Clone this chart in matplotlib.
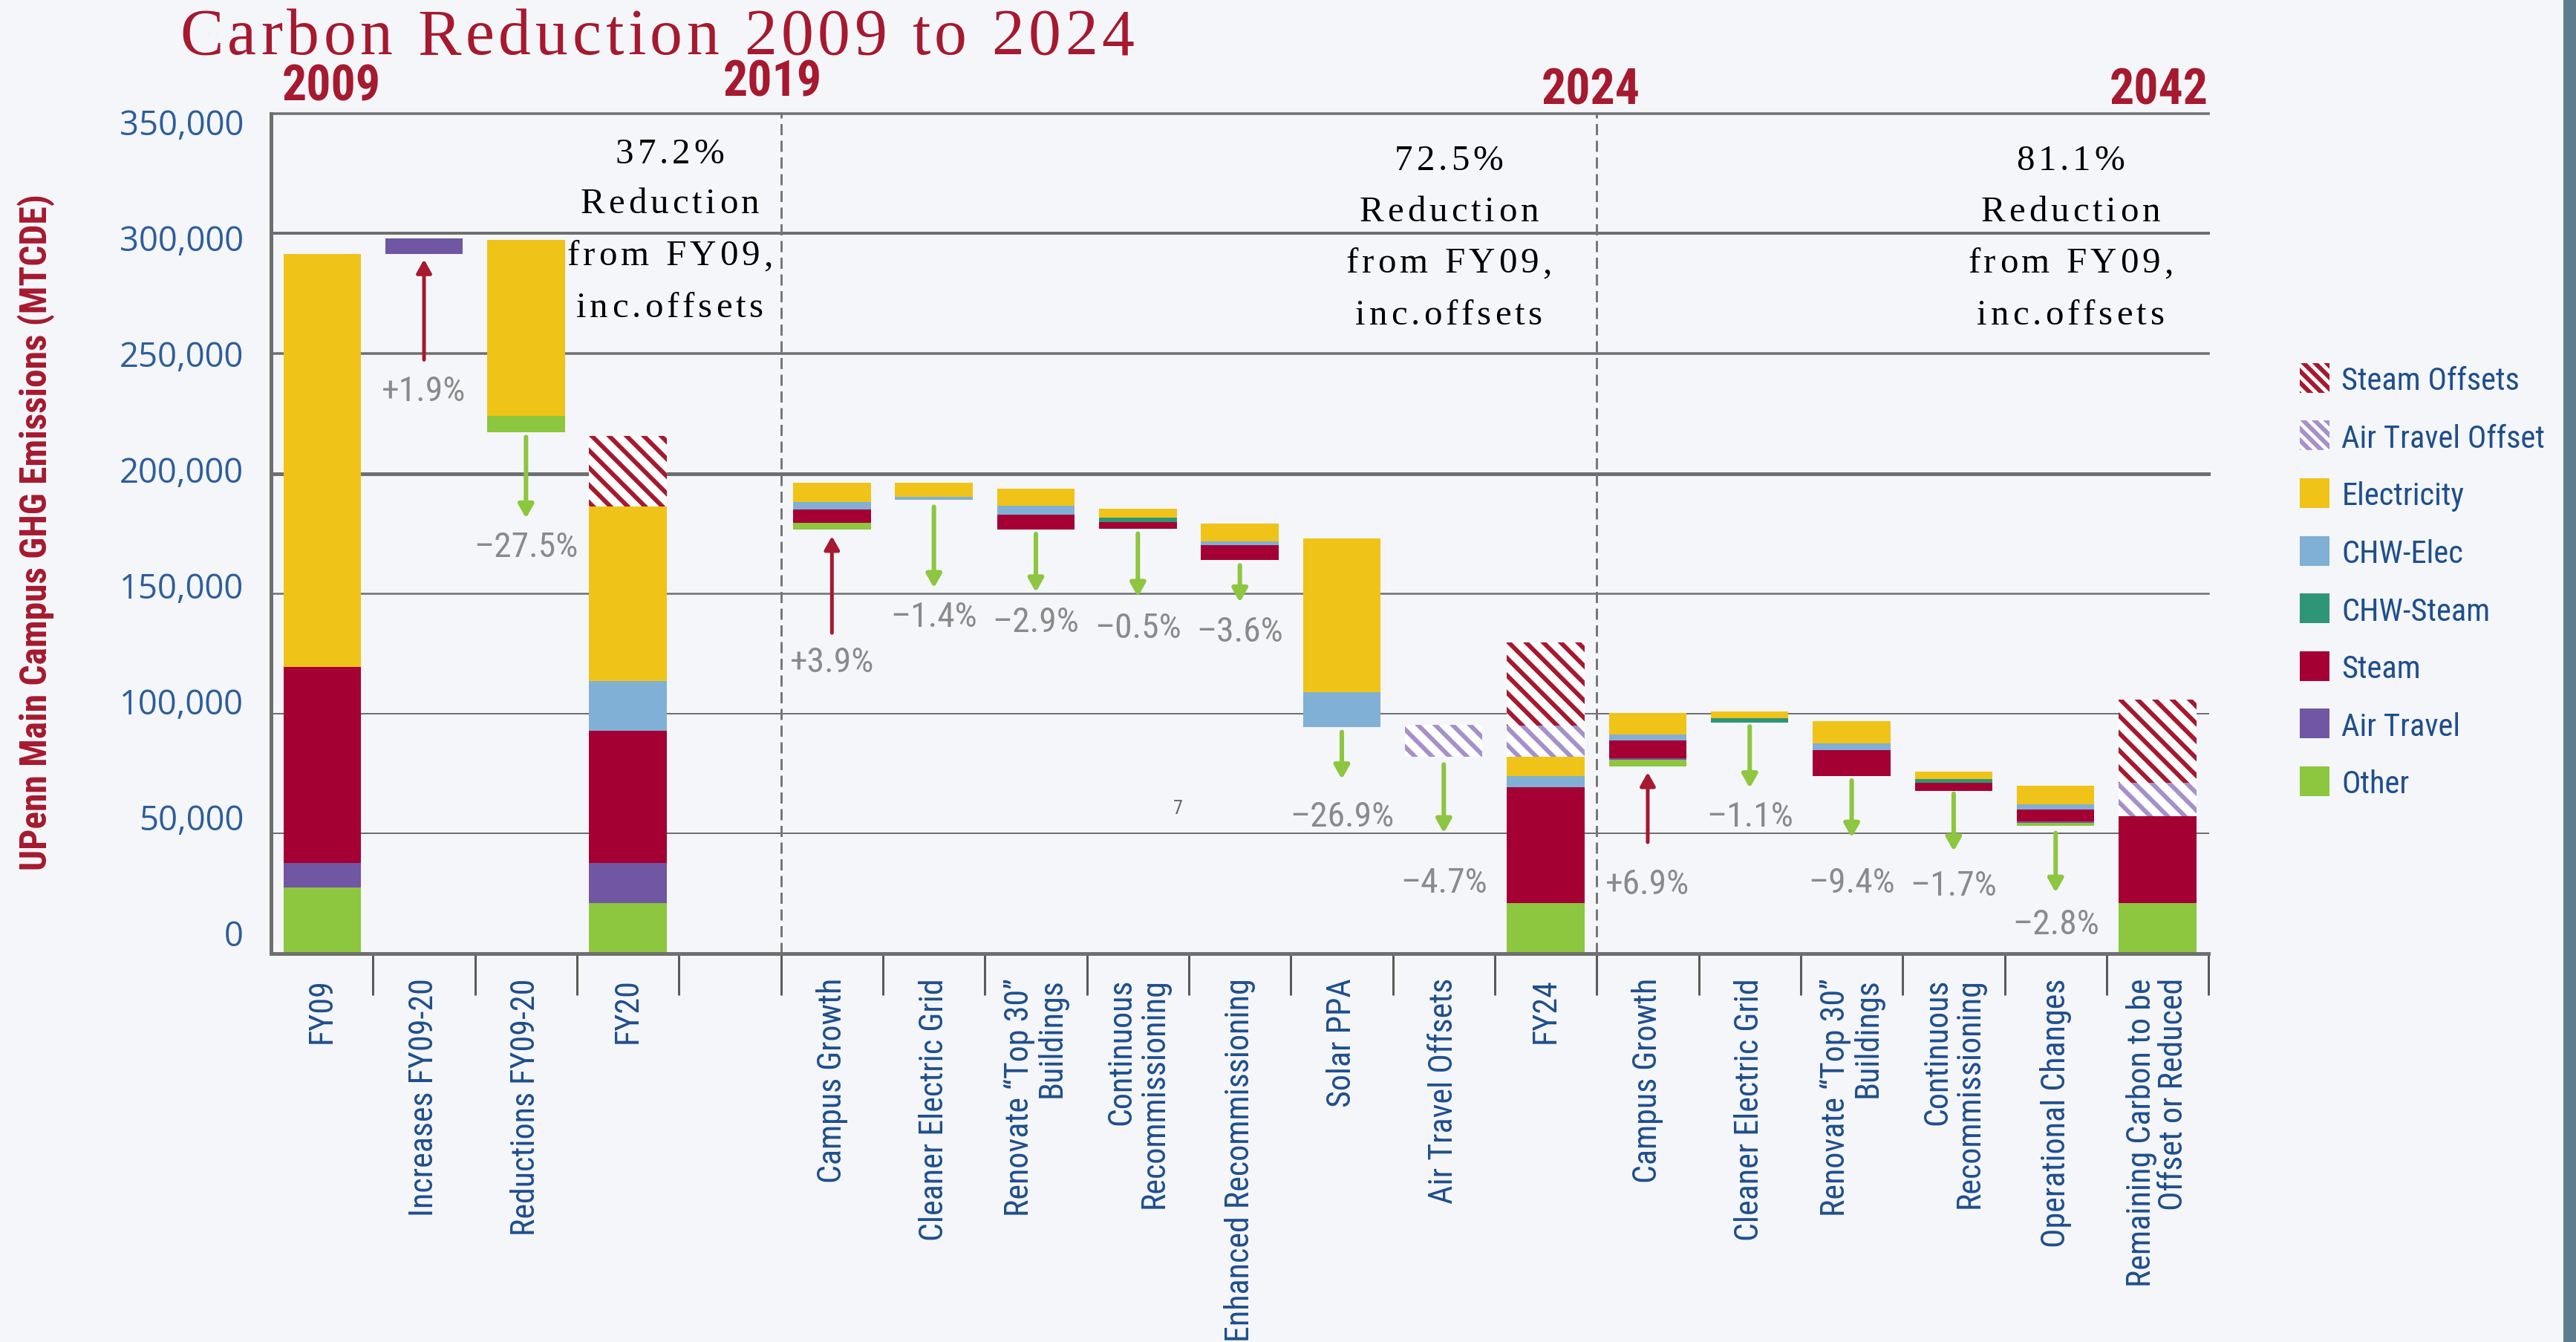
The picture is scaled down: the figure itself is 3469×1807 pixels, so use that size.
import numpy as np
import matplotlib
matplotlib.use("Agg")
import matplotlib.pyplot as plt
from matplotlib import font_manager as fm
from matplotlib.patches import Rectangle
from matplotlib.font_manager import FontProperties, findfont, get_font

W, H, DPI = 3469, 1807, 140


def pt(px):
    return px * 72 / DPI


def fx(px):
    return px / W


def fy(px):
    return 1 - px / H


# ---- data (MTCDE) ----
categories = ["FY09", "Increases FY09-20", "Reductions FY09-20", "FY20", "",
              "Campus Growth", "Cleaner Electric Grid", "Renovate “Top 30”\nBuildings",
              "Continuous\nRecommissioning", "Enhanced Recommissioning", "Solar PPA",
              "Air Travel Offsets", "FY24", "Campus Growth", "Cleaner Electric Grid",
              "Renovate “Top 30”\nBuildings", "Continuous\nRecommissioning",
              "Operational Changes", "Remaining Carbon to be\nOffset or Reduced"]

base = [0, 291300, 217200, 0, 0, 176700, 188900, 176700, 176900, 164000,
        94200, 82000, 0, 78000, 96200, 74000, 67800, 53300, 0]
other = [27500, 0, 6700, 21000, 0, 2800, 0, 0, 0, 0, 0, 0, 21000, 2600, 0, 0, 0, 1200, 21000]
air_travel = [10100, 6700, 0, 16700, 0, 0, 0, 0, 0, 0, 0, 0, 0, 800, 0, 0, 0, 700, 0]
steam = [81900, 0, 0, 55100, 0, 5400, 0, 6200, 2900, 6200, 0, 0, 48300, 7500, 0, 10600, 3400, 4900, 36200]
chw_steam = [0, 0, 0, 0, 0, 0, 0, 0, 1900, 0, 0, 0, 0, 0, 1900, 0, 1500, 0, 0]
chw_elec = [0, 0, 0, 20600, 0, 3200, 1300, 3600, 0, 1500, 14600, 0, 4600, 2400, 0, 2800, 0, 2200, 0]
electricity = [171800, 0, 73300, 72900, 0, 8100, 6000, 7100, 3500, 7300, 64000, 0, 8000, 8900, 2800, 9300, 3200, 7500, 0]
air_offset = [0, 0, 0, 0, 0, 0, 0, 0, 0, 0, 0, 13300, 13100, 0, 0, 0, 0, 0, 13800]
steam_offset = [0, 0, 0, 29200, 0, 0, 0, 0, 0, 0, 0, 0, 34700, 0, 0, 0, 0, 0, 34900]

# change arrows: slot, label, arrow tail, arrow tip, label centre
chg_slot = [1, 2, 5, 6, 7, 8, 9, 10, 11, 13, 14, 15, 16, 17]
chg_label = ["+1.9%", "–27.5%", "+3.9%", "–1.4%", "–2.9%", "–0.5%", "–3.6%", "–26.9%",
             "–4.7%", "+6.9%", "–1.1%", "–9.4%", "–1.7%", "–2.8%"]
chg_from = [247400, 215200, 133600, 186100, 174800, 174900, 161700, 92300,
            78800, 46400, 94600, 72100, 66600, 50200]
chg_to = [289200, 181300, 173900, 152300, 150500, 148600, 146300, 72600,
          50200, 75500, 68900, 48300, 42600, 25400]
chg_label_y = [235600, 170600, 122700, 141500, 139600, 136900, 135500, 58500,
               31000, 30300, 58500, 30800, 29500, 13600]

ann_text = [["37.2%", "Reduction", "from FY09,", "inc.offsets"],
            ["72.5%", "Reduction", "from FY09,", "inc.offsets"],
            ["81.1%", "Reduction", "from FY09,", "inc.offsets"]]

years = ["2009", "2019", "2024", "2042"]

# ---- style ----
BG = "#f4f6fa"
RED = "#a6192e"
BLUE = "#1f4e8c"
GRID = "#6f6f6f"
SERIF = ["Liberation Serif", "DejaVu Serif"]


def pick_narrow():
    names = {f.name for f in fm.fontManager.ttflist}
    for n in ["Liberation Sans Narrow", "Roboto Condensed", "DejaVu Sans Condensed",
              "Open Sans Condensed", "Noto Sans Condensed"]:
        if n in names:
            return n, "normal"
    for f in fm.fontManager.ttflist:
        if f.name in ("Roboto", "Noto Sans", "Open Sans", "DejaVu Sans") and \
                f.stretch in ("condensed", "semi-condensed"):
            return f.name, f.stretch
    return "Liberation Sans", "normal"


NARROW, STRETCH = pick_narrow()


def narrow(weight="normal"):
    return FontProperties(family=[NARROW, "DejaVu Sans"], stretch=STRETCH, weight=weight)


def em_width(s, fp):
    font = get_font(findfont(fp))
    font.set_size(72, 72)
    return sum(font.load_char(ord(c)).linearHoriAdvance for c in s) / 65536 / 72


def fit(s, fp, target_px):
    # font size (pt) that makes s span target_px
    return pt(target_px / em_width(s, fp))


plt.rcParams["hatch.linewidth"] = pt(6)

fig = plt.figure(figsize=((W + 0.3) / DPI, (H + 0.3) / DPI), dpi=DPI, facecolor=BG)
fig.add_artist(Rectangle((fx(3453), 0), 1 - fx(3453), 1, transform=fig.transFigure,
                         color="#5a7e8e", zorder=0))

ax = fig.add_axes([fx(365), fy(1284), fx(2974 - 365), (1284 - 153) / H])
ax.set_facecolor(BG)
x = np.arange(len(categories))
ax.set_xlim(-0.5, len(categories) - 0.5)
ax.set_ylim(0, 350000)

series = [("Other", other, "#8dc63f", False),
          ("Air Travel", air_travel, "#7156a3", False),
          ("Steam", steam, "#a50034", False),
          ("CHW-Steam", chw_steam, "#2e9577", False),
          ("CHW-Elec", chw_elec, "#80b0d5", False),
          ("Electricity", electricity, "#f0c319", False),
          ("Air Travel Offset", air_offset, "#a590cc", True),
          ("Steam Offsets", steam_offset, RED, True)]

bottom = np.array(base, float)
for name, vals, col, hatched in series:
    vals = np.array(vals, float)
    if hatched:
        ax.bar(x, vals, 0.76, bottom=bottom, color="white", edgecolor=col,
               hatch="\\\\", linewidth=0, zorder=2)
    else:
        ax.bar(x, vals, 0.76, bottom=bottom, color=col, linewidth=0, zorder=2)
    bottom += vals

# grid lines (heavier at 200k / 300k)
grid_w = {50000: 2, 100000: 2, 150000: 2.5, 200000: 5, 250000: 3.5, 300000: 4, 350000: 3.5}
for v, w in grid_w.items():
    ax.axhline(v, color=GRID, lw=pt(w), zorder=1, clip_on=False)
for xv in (4.5, 12.5):
    ax.axvline(xv, color="#777777", lw=pt(3), ls=(0, (5, 2.5)), zorder=1)

for side in ("top", "right"):
    ax.spines[side].set_visible(False)
for side in ("left", "bottom"):
    ax.spines[side].set_color(GRID)
    ax.spines[side].set_linewidth(pt(5))

xfp = narrow()
xfp.set_size(fit("Reductions FY09-20", narrow(), 346))
ax.set_xticks(x, categories, rotation=90, ha="center", va="top", multialignment="right",
              fontproperties=xfp, color=BLUE, linespacing=1.05)
ax.set_xticks(np.arange(0.5, len(categories), 1), minor=True)
ax.tick_params(axis="x", which="major", length=0, pad=pt(33))
ax.tick_params(axis="x", which="minor", length=pt(56), width=pt(3), color="#5a5a5a")
ax.set_yticks(np.arange(0, 350001, 50000))
ax.tick_params(axis="y", length=0, labelleft=False)

# y tick labels sit on a slightly tighter scale in the original
yfp = FontProperties(family=["Open Sans", "DejaVu Sans"])
yfp.set_size(fit("350,000", yfp, 168))
lab = fig.add_axes([fx(365), fy(1256), 1e-4, (1256 - 164) / H])
lab.set_ylim(0, 350000)
lab.set_yticks(np.arange(0, 350001, 50000),
               [f"{v:,}" for v in range(0, 350001, 50000)], fontproperties=yfp)
lab.tick_params(axis="y", length=0, pad=pt(37), labelcolor="#2d5d9c")
lab.set_xticks([])
lab.patch.set_visible(False)
for s in lab.spines.values():
    s.set_visible(False)

# arrows and percent labels
pfp = narrow()
pfp.set_size(fit("–27.5%", narrow(), 140))
for xs, txt, y0, y1, ly in zip(chg_slot, chg_label, chg_from, chg_to, chg_label_y):
    up = y1 > y0
    col = RED if up else "#8dc63f"
    ax.annotate("", xy=(xs, y1), xytext=(xs, y0),
                arrowprops=dict(arrowstyle="-|>,head_length=0.5,head_width=0.28",
                                color=col, lw=pt(5 if up else 6), shrinkA=0, shrinkB=0,
                                mutation_scale=pt(30)), zorder=3)
    ax.text(xs, ly, txt, ha="center", va="center_baseline", fontproperties=pfp,
            color="#8a8a8a", zorder=3)
sfp = narrow()
sfp.set_size(pt(26))
ax.text(8.39, 61300, "7", ha="center", va="center_baseline", fontproperties=sfp,
        color="#666666")


def spaced_text(x_px, base_px, s, size_px, gap, color, anchor="center"):
    fp = FontProperties(family=SERIF, size=pt(size_px))
    font = get_font(findfont(fp))
    font.set_size(pt(size_px), DPI)
    adv = [font.load_char(ord(c)).linearHoriAdvance / 65536 for c in s]
    total = sum(adv) + gap * (len(s) - 1)
    xp = x_px - total / 2 if anchor == "center" else x_px
    for c, a in zip(s, adv):
        if c != " ":
            fig.text(fx(xp), fy(base_px), c, fontproperties=fp, color=color,
                     ha="left", va="baseline")
        xp += a + gap


spaced_text(242, 73, "Carbon Reduction 2009 to 2024", 87.6, 5.75, RED, anchor="left")

for cx, bases, lines in zip([902, 1951, 2788],
                            [[220, 287, 357, 427], [229, 298, 367, 437], [229, 298, 367, 437]],
                            ann_text):
    for b, line in zip(bases, lines):
        spaced_text(cx, b, line, 49, 5, "black")

bfp = narrow("bold")
bfp.set_size(fit("2009", narrow("bold"), 133))
for (px, base_y, ha), yr in zip([(446, 135, "center"), (1040, 129, "center"),
                                 (2142, 140, "center"), (2973, 140, "right")], years):
    fig.text(fx(px), fy(base_y), yr, ha=ha, va="baseline", fontproperties=bfp, color=RED)

ylab = "UPenn Main Campus GHG Emissions (MTCDE)"
lfp = narrow("bold")
lfp.set_size(fit(ylab, narrow("bold"), 911))
fig.text(fx(49), fy(716), ylab, rotation=90, ha="center", va="center",
         fontproperties=lfp, color=RED)

# legend, drawn entry by entry to match the original spacing
gfp = narrow()
gfp.set_size(fit("Air Travel Offset", narrow(), 274))
for i, (name, vals, col, hatched) in enumerate(reversed(series)):
    yc = 509 + i * 77.6
    if hatched:
        box = Rectangle((fx(3097), fy(yc + 20)), fx(40), 40 / H, transform=fig.transFigure,
                        facecolor="white", edgecolor=col, hatch="\\\\\\", linewidth=0)
    else:
        box = Rectangle((fx(3097), fy(yc + 20)), fx(40), 40 / H, transform=fig.transFigure,
                        facecolor=col, linewidth=0)
    fig.add_artist(box)
    fig.text(fx(3153), fy(yc), name, ha="left", va="center_baseline",
             fontproperties=gfp, color=BLUE)

fig.savefig("out.png", dpi=DPI, facecolor=BG)
